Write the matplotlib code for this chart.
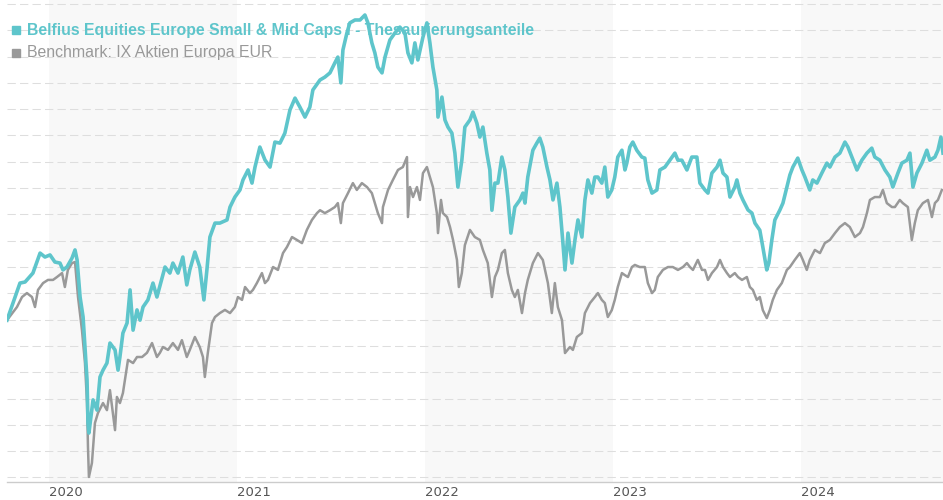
import matplotlib
matplotlib.use("Agg")
import matplotlib.pyplot as plt
from matplotlib.patches import Rectangle
import numpy as np

# fund (teal) - decimal year / indexed value
fund_t = [2019.774, 2019.843, 2019.870, 2019.912, 2019.950, 2019.976, 2020.003, 2020.029, 2020.056, 2020.072,
          2020.093, 2020.120, 2020.136, 2020.147, 2020.163, 2020.179, 2020.189, 2020.200, 2020.205, 2020.210,
          2020.232, 2020.253, 2020.269, 2020.285, 2020.306, 2020.322, 2020.349, 2020.365, 2020.375, 2020.391,
          2020.413, 2020.429, 2020.445, 2020.466, 2020.482, 2020.498, 2020.524, 2020.551, 2020.572, 2020.615,
          2020.641, 2020.657, 2020.684, 2020.710, 2020.731, 2020.747, 2020.774, 2020.800, 2020.822, 2020.838,
          2020.854, 2020.881, 2020.907, 2020.945, 2020.961, 2020.987, 2021.014, 2021.030, 2021.057, 2021.078,
          2021.094, 2021.120, 2021.147, 2021.174, 2021.200, 2021.227, 2021.253, 2021.280, 2021.307, 2021.333,
          2021.360, 2021.386, 2021.402, 2021.440, 2021.466, 2021.493, 2021.519, 2021.535, 2021.551, 2021.562,
          2021.583, 2021.599, 2021.626, 2021.653, 2021.679, 2021.695, 2021.716, 2021.732, 2021.748, 2021.770,
          2021.786, 2021.812, 2021.839, 2021.865, 2021.892, 2021.908, 2021.929, 2021.945, 2021.961, 2021.988,
          2022.009, 2022.025, 2022.041, 2022.062, 2022.068, 2022.089, 2022.105, 2022.121, 2022.142, 2022.158,
          2022.174, 2022.195, 2022.211, 2022.238, 2022.254, 2022.275, 2022.291, 2022.307, 2022.328, 2022.344,
          2022.355, 2022.371, 2022.387, 2022.408, 2022.424, 2022.440, 2022.456, 2022.477, 2022.504, 2022.520,
          2022.531, 2022.546, 2022.573, 2022.594, 2022.610, 2022.626, 2022.648, 2022.664, 2022.680, 2022.701,
          2022.717, 2022.733, 2022.744, 2022.760, 2022.781, 2022.797, 2022.813, 2022.834, 2022.850, 2022.866,
          2022.887, 2022.903, 2022.919, 2022.940, 2022.956, 2022.972, 2022.993, 2023.009, 2023.025, 2023.047,
          2023.063, 2023.073, 2023.089, 2023.105, 2023.126, 2023.153, 2023.169, 2023.185, 2023.207, 2023.233,
          2023.249, 2023.276, 2023.302, 2023.329, 2023.345, 2023.366, 2023.393, 2023.419, 2023.446, 2023.462,
          2023.489, 2023.505, 2023.526, 2023.553, 2023.569, 2023.585, 2023.606, 2023.622, 2023.648, 2023.659,
          2023.675, 2023.691, 2023.718, 2023.739, 2023.755, 2023.781, 2023.797, 2023.818, 2023.829, 2023.845,
          2023.861, 2023.888, 2023.904, 2023.925, 2023.941, 2023.957, 2023.983, 2024.005, 2024.021, 2024.047,
          2024.063, 2024.085, 2024.111, 2024.138, 2024.154, 2024.181, 2024.207, 2024.234, 2024.250, 2024.271,
          2024.298, 2024.324, 2024.351, 2024.377, 2024.393, 2024.420, 2024.447, 2024.473, 2024.489, 2024.516,
          2024.537, 2024.564, 2024.580, 2024.596, 2024.617, 2024.644, 2024.670, 2024.686, 2024.713, 2024.729,
          2024.745, 2024.756]
fund_v = [99.8, 113.9, 114.3, 117.7, 125.3, 123.8, 124.6, 121.9, 121.5, 118.9,
          120.0, 123.4, 126.5, 122.7, 108.6, 101.0, 89.6, 77.1, 60.7, 56.9,
          69.5, 65.6, 78.2, 80.8, 83.5, 91.1, 88.5, 80.8, 85.8, 94.9,
          98.7, 111.3, 96.0, 103.7, 99.8, 104.8, 107.5, 113.9, 108.6, 120.0,
          117.7, 121.5, 117.7, 123.8, 113.2, 118.9, 125.7, 120.0, 107.5, 118.9,
          131.4, 136.7, 136.7, 137.9, 142.8, 146.6, 149.3, 153.1, 156.9, 151.9,
          158.0, 165.6, 160.7, 158.0, 167.5, 167.1, 170.9, 179.7, 184.2, 180.8,
          177.0, 180.8, 187.3, 191.1, 192.2, 193.8, 197.6, 199.8, 190.0, 202.5,
          208.9, 212.8, 213.9, 213.9, 215.8, 212.8, 205.2, 201.4, 196.0, 193.8,
          199.8, 206.3, 209.0, 211.2, 209.0, 201.4, 197.6, 205.2, 198.7, 207.4,
          212.8, 205.2, 196.0, 187.3, 177.0, 184.6, 175.9, 173.2, 170.9, 163.3,
          150.4, 160.6, 173.2, 175.9, 178.9, 174.7, 169.4, 173.2, 163.3, 156.9,
          141.6, 151.9, 151.9, 161.8, 156.9, 146.6, 132.9, 142.8, 145.5, 148.1,
          144.3, 154.2, 164.4, 167.1, 169.0, 165.6, 158.0, 153.1, 145.5, 151.9,
          142.8, 129.1, 118.9, 132.9, 121.5, 130.3, 137.9, 131.4, 145.5, 153.1,
          148.1, 154.2, 154.2, 151.9, 158.0, 146.6, 149.3, 154.2, 161.8, 164.4,
          156.9, 159.5, 165.6, 167.5, 164.4, 161.8, 161.4, 153.1, 148.1, 149.3,
          156.9, 158.0, 160.6, 163.3, 160.6, 160.6, 156.9, 161.8, 161.8, 151.9,
          149.3, 148.1, 155.7, 158.0, 160.6, 155.7, 154.2, 146.6, 150.4, 153.1,
          148.1, 145.5, 141.7, 140.5, 136.7, 134.0, 127.6, 118.9, 121.5, 130.3,
          137.9, 141.7, 144.3, 150.4, 155.0, 158.0, 161.4, 156.9, 154.2, 149.3,
          153.1, 151.9, 155.7, 159.5, 158.0, 161.8, 163.3, 167.5, 165.6, 161.8,
          156.9, 160.6, 163.3, 165.2, 161.8, 160.6, 156.9, 154.2, 150.4, 155.7,
          159.5, 160.6, 163.3, 150.4, 155.7, 159.5, 164.4, 160.6, 161.8, 164.4,
          169.4, 163.3]

# benchmark (gray)
bench_t = [2019.774, 2019.827, 2019.854, 2019.880, 2019.907, 2019.923, 2019.939, 2019.966, 2019.992, 2020.019,
           2020.040, 2020.067, 2020.082, 2020.098, 2020.120, 2020.136, 2020.152, 2020.173, 2020.189, 2020.200,
           2020.205, 2020.210, 2020.226, 2020.242, 2020.258, 2020.285, 2020.306, 2020.322, 2020.349, 2020.359,
           2020.375, 2020.391, 2020.418, 2020.445, 2020.466, 2020.493, 2020.519, 2020.546, 2020.572, 2020.588,
           2020.604, 2020.631, 2020.657, 2020.684, 2020.705, 2020.731, 2020.747, 2020.774, 2020.800, 2020.817,
           2020.827, 2020.843, 2020.865, 2020.881, 2020.907, 2020.934, 2020.961, 2020.987, 2021.003, 2021.025,
           2021.041, 2021.067, 2021.083, 2021.104, 2021.131, 2021.147, 2021.163, 2021.190, 2021.216, 2021.243,
           2021.264, 2021.291, 2021.317, 2021.344, 2021.370, 2021.397, 2021.424, 2021.440, 2021.466, 2021.493,
           2021.519, 2021.535, 2021.551, 2021.562, 2021.589, 2021.615, 2021.636, 2021.663, 2021.690, 2021.716,
           2021.732, 2021.748, 2021.770, 2021.775, 2021.802, 2021.828, 2021.855, 2021.881, 2021.903, 2021.908,
           2021.919, 2021.935, 2021.956, 2021.972, 2021.988, 2022.009, 2022.025, 2022.041, 2022.062, 2022.068,
           2022.084, 2022.094, 2022.116, 2022.132, 2022.148, 2022.169, 2022.179, 2022.195, 2022.211, 2022.238,
           2022.264, 2022.291, 2022.307, 2022.333, 2022.355, 2022.371, 2022.387, 2022.408, 2022.424, 2022.440,
           2022.461, 2022.477, 2022.493, 2022.515, 2022.531, 2022.546, 2022.573, 2022.600, 2022.626, 2022.653,
           2022.674, 2022.690, 2022.706, 2022.728, 2022.744, 2022.770, 2022.786, 2022.807, 2022.834, 2022.850,
           2022.877, 2022.903, 2022.919, 2022.940, 2022.956, 2022.972, 2022.993, 2023.009, 2023.025, 2023.047,
           2023.063, 2023.079, 2023.100, 2023.116, 2023.142, 2023.169, 2023.185, 2023.207, 2023.222, 2023.238,
           2023.265, 2023.292, 2023.318, 2023.345, 2023.372, 2023.393, 2023.409, 2023.425, 2023.451, 2023.473,
           2023.489, 2023.505, 2023.526, 2023.553, 2023.569, 2023.585, 2023.606, 2023.622, 2023.648, 2023.665,
           2023.686, 2023.712, 2023.728, 2023.744, 2023.765, 2023.781, 2023.797, 2023.818, 2023.834, 2023.850,
           2023.872, 2023.898, 2023.925, 2023.941, 2023.967, 2023.994, 2024.010, 2024.031, 2024.047, 2024.074,
           2024.101, 2024.127, 2024.154, 2024.181, 2024.207, 2024.234, 2024.260, 2024.287, 2024.314, 2024.330,
           2024.351, 2024.367, 2024.393, 2024.420, 2024.436, 2024.457, 2024.484, 2024.500, 2024.526, 2024.542,
           2024.569, 2024.590, 2024.606, 2024.622, 2024.649, 2024.676, 2024.697, 2024.713, 2024.729, 2024.750]
bench_v = [99.8, 104.8, 108.6, 110.1, 108.6, 104.8, 111.3, 113.9, 115.1, 115.1,
           116.2, 117.7, 112.4, 118.9, 121.5, 121.9, 108.6, 96.0, 83.5, 68.3,
           51.6, 40.2, 45.5, 60.7, 64.5, 68.3, 65.6, 73.2, 58.0, 70.6,
           68.3, 72.1, 84.7, 83.5, 85.8, 85.8, 87.4, 91.1, 85.8, 87.4,
           89.6, 88.5, 91.1, 88.5, 92.2, 85.8, 88.5, 93.4, 89.6, 85.8,
           78.2, 87.4, 98.7, 101.0, 102.5, 103.7, 102.5, 104.8, 108.6, 107.5,
           112.4, 110.1, 111.3, 113.9, 117.7, 113.9, 115.1, 120.0, 118.9, 125.3,
           127.6, 131.4, 130.3, 129.1, 134.1, 137.9, 140.5, 141.6, 140.5, 141.6,
           142.8, 144.3, 136.7, 144.3, 148.1, 151.9, 149.3, 151.9, 150.4, 148.1,
           144.3, 140.5, 136.7, 142.8, 149.3, 153.1, 156.9, 158.0, 161.8, 139.0,
           150.4, 146.6, 150.4, 145.5, 155.7, 158.0, 154.2, 150.4, 140.5, 132.9,
           145.5, 140.5, 139.0, 135.2, 130.3, 122.7, 112.4, 117.7, 128.3, 134.1,
           131.4, 130.3, 126.5, 121.5, 108.6, 116.2, 118.9, 125.3, 126.5, 117.7,
           111.3, 108.6, 111.3, 102.5, 110.1, 115.1, 121.5, 125.3, 122.7, 113.9,
           102.5, 113.9, 104.8, 99.8, 87.3, 89.6, 88.5, 93.4, 94.9, 102.5,
           106.3, 108.6, 110.1, 107.5, 106.3, 101.0, 103.6, 107.5, 112.4, 117.7,
           116.9, 116.2, 120.0, 120.8, 120.0, 120.0, 113.9, 110.1, 111.3, 116.2,
           118.9, 120.0, 120.0, 118.9, 120.0, 121.5, 120.0, 118.9, 122.7, 118.9,
           118.9, 115.1, 117.7, 120.0, 122.7, 120.0, 117.7, 116.2, 117.7, 116.2,
           115.1, 116.2, 112.4, 111.3, 107.5, 108.6, 103.6, 100.6, 103.6, 107.5,
           111.3, 113.9, 118.9, 120.0, 122.7, 125.3, 122.7, 118.9, 122.7, 126.5,
           125.3, 129.1, 130.3, 132.9, 135.2, 136.7, 135.2, 131.4, 132.9, 135.2,
           140.5, 145.5, 146.6, 146.6, 149.3, 144.3, 142.8, 142.8, 145.5, 144.3,
           142.8, 130.3, 136.7, 141.6, 144.3, 145.5, 139.0, 144.3, 145.5, 149.3]

years = [2020, 2021, 2022, 2023, 2024]
fund_name = "Belfius Equities Europe Small & Mid Caps I - Thesaurierungsanteile"
bench_name = "Benchmark: IX Aktien Europa EUR"

teal = "#5ec5cb"
grey = "#999999"

plt.rcParams['font.family'] = ['Liberation Sans', 'DejaVu Sans']

fig = plt.figure(figsize=(9.43, 5), dpi=100)
ax = fig.add_axes([7 / 943, 18.3 / 500, 936 / 943, 481.7 / 500])

x0, x1 = 2019.774, 2024.756
ax.set_xlim(x0, x1)
ax.set_ylim(38.4, 221.5)

# alternating year bands
for i, y in enumerate(years):
    if i % 2 == 0:
        ax.axvspan(y, min(y + 1, x1 + 1), color="#f8f8f8", lw=0, zorder=0)

for g in np.arange(40, 221, 10):
    ax.axhline(g, color="#dedede", lw=0.75, ls=(0, (8, 4)), zorder=1)

ax.plot(bench_t, bench_v, color=grey, lw=1.8, zorder=4, solid_joinstyle="round")
ax.plot(fund_t, fund_v, color=teal, lw=2.6, zorder=5, solid_joinstyle="round")

for s in ["top", "right", "left"]:
    ax.spines[s].set_visible(False)
ax.spines["bottom"].set_color("#cccccc")
ax.spines["bottom"].set_linewidth(1)
ax.set_yticks([])
ax.set_xticks(years)
ax.set_xticklabels([str(y) for y in years], ha="left", fontsize=9.5,
                   color="#555555", family="DejaVu Sans")
ax.tick_params(axis="x", length=0, pad=3)

# legend (drawn under the lines like the original)
ax.add_patch(Rectangle((12 / 943, 1 - 34 / 500), 8 / 943, 8 / 500, transform=fig.transFigure,
                       color=teal, clip_on=False, zorder=2))
ax.add_patch(Rectangle((12 / 943, 1 - 57 / 500), 8 / 943, 8 / 500, transform=fig.transFigure,
                       color=grey, clip_on=False, zorder=2))
ax.text(27 / 943, 1 - 30 / 500, fund_name, transform=fig.transFigure, color=teal,
        fontsize=11.4, fontweight="bold", va="center", ha="left", zorder=3)
ax.text(27 / 943, 1 - 53 / 500, bench_name, transform=fig.transFigure, color=grey,
        fontsize=11.4, va="center", ha="left", zorder=3)

fig.savefig("out.png", dpi=100)
